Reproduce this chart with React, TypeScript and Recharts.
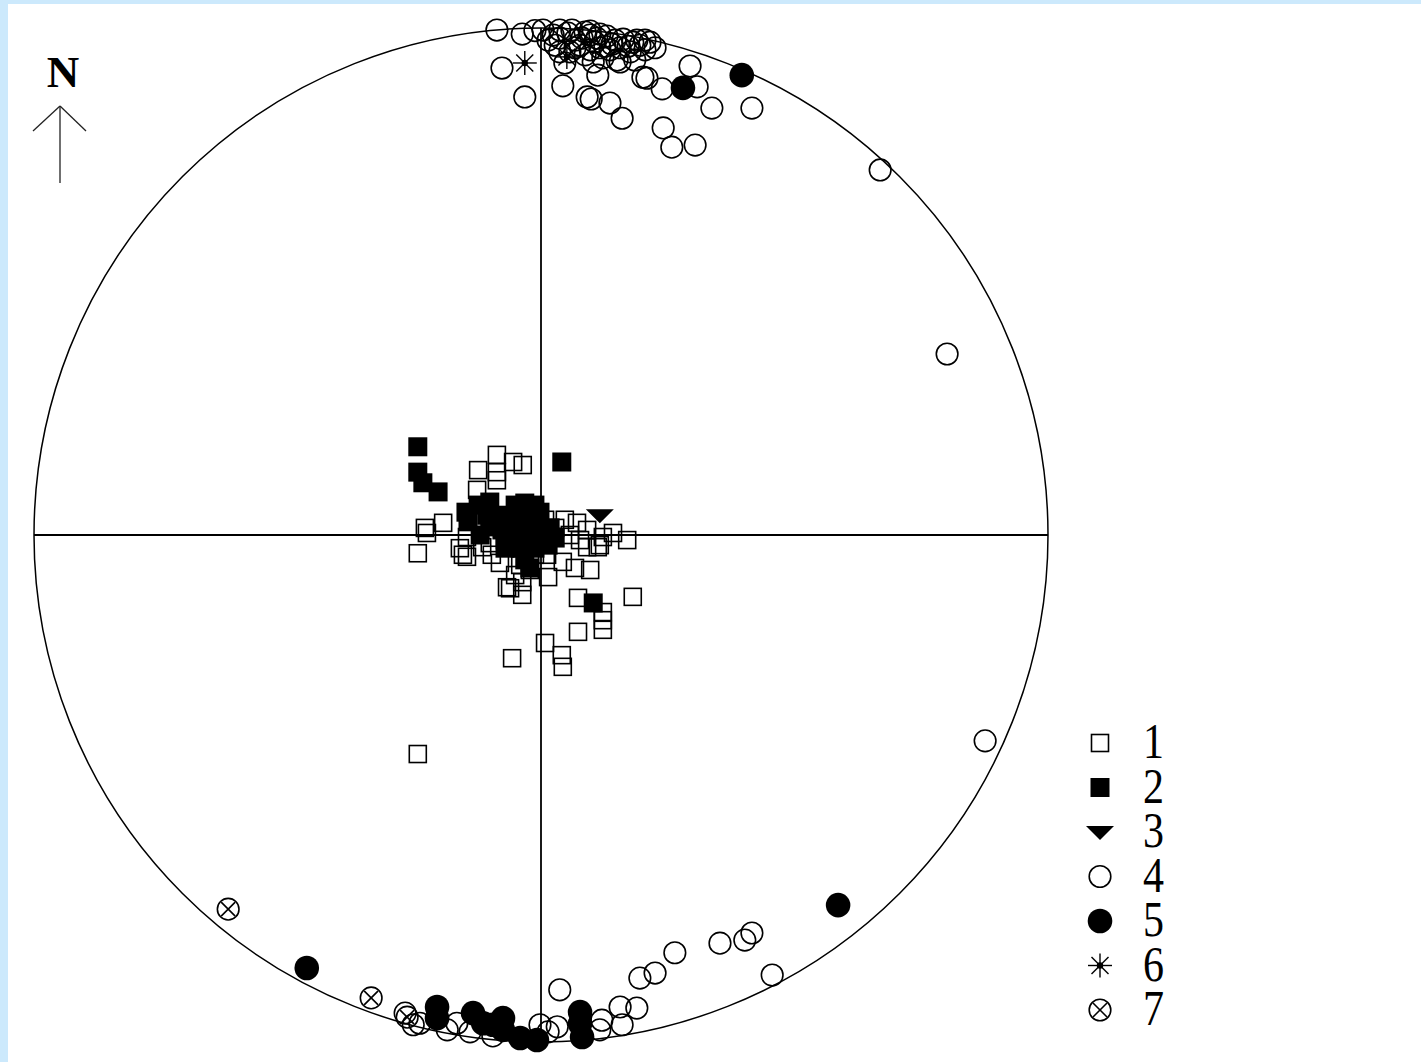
import React from 'react';
import {
  ScatterChart,
  Scatter,
  XAxis,
  YAxis,
  ReferenceLine,
  ReferenceDot,
  Legend,
} from 'recharts';

type Pt = [number, number];

// stereonet projection coordinates, net radius = 100
const openSquares: Pt[] = [
  [-8.7, 15.8], [-5.5, 14.4], [-3.6, 13.8], [-12.4, 12.8], [-8.7, 12.4], [-8.7, 10.8],
  [-12.6, 8.9], [-19.3, 2.4], [-22.9, 1.4], [-22.5, 0.4], [-24.3, -3.6], [-15.4, -3.9],
  [-14.6, -4.3], [4.7, 3.0], [7.1, 2.4], [9.1, 1.0], [12.2, -0.4], [14.2, 0.4],
  [17.0, -1.0], [11.2, -2.4], [9.1, -2.4], [6.7, -6.5], [9.7, -6.9], [4.3, -5.3],
  [1.2, -3.9], [1.4, -8.3], [-8.1, -5.5], [-14.6, -0.4], [-11.6, -2.4], [-10.1, -1.6],
  [-6.7, -10.3], [-6.1, -10.5], [-3.7, -11.8], [-3.7, -9.3], [7.3, -12.4], [18.1, -12.2],
  [12.2, -15.2], [12.2, -16.8], [12.2, -18.7], [7.3, -19.1], [0.8, -21.3], [4.1, -23.7],
  [4.3, -26.0], [-5.7, -24.3], [-24.3, -43.2], [2.8, 1.4], [5.7, 0], [7.7, -1.0],
  [11.6, -2.0], [-2.2, -6.9], [-5.1, -7.9], [-4.1, -5.9], [-1.2, -3.9], [-12.4, 3.0],
  [-7.1, -1.0], [-3.2, 3.9], [0.8, 3.0], [-16.0, -2.6], [-9.7, -3.9],
];

const filledSquares: Pt[] = [
  [-24.3, 17.4], [-24.3, 12.4], [-23.3, 10.3], [-20.3, 8.5], [4.1, 14.4], [10.3, -13.4],
  [-14.8, 4.5], [-14.4, 2.6], [-12.4, 5.9], [-10.1, 6.5], [-10.7, 3.9], [-10.1, 1.6],
  [-7.7, 1.0], [-7.1, 3.9], [-5.1, 5.9], [-3.2, 6.3], [-1.2, 5.9], [-0.2, 4.5],
  [-0.8, 2.6], [-3.2, 3.0], [-5.1, 1.0], [-2.8, 0], [-0.2, 0], [1.8, 1.4],
  [1.4, -2.0], [-1.2, -2.6], [-4.1, -2.6], [-3.2, -4.9], [-2.2, -6.5], [-4.7, -1.0],
  [-7.1, -2.6], [-12.0, 0], [2.8, -0.6], [-8.1, 3.0], [-5.7, 3.4],
];

const triangles: Pt[] = [[11.6, 3.9]];

const openCircles: Pt[] = [
  // north rim
  [-8.7, 99.6], [-3.7, 98.8], [0.4, 99.6], [-1.2, 99.5], [6.1, 99.6], [3.7, 98.0],
  [9.7, 98.6], [13.0, 98.4], [16.2, 97.8], [18.9, 97.6], [21.5, 97.2], [5.7, 95.3],
  [10.3, 93.3], [15.6, 93.3], [13.6, 95.7], [7.7, 96.6], [11.6, 96.1], [17.6, 95.3],
  [20.5, 95.7], [2.8, 96.6], [8.7, 99.2], [11.6, 98.8], [14.6, 97.6], [19.5, 96.6],
  [2.4, 98.6], [6.7, 97.6], [10.6, 97.2], [14.0, 96.8], [17.2, 96.4], [8.7, 94.7],
  [12.2, 94.1], [18.5, 93.7], [22.5, 96.1], [3.7, 99.6], [9.7, 99.4],
  [1.4, 97.6], [5.3, 99.0], [8.1, 98.0], [11.0, 98.0], [12.6, 96.4], [15.6, 96.1],
  [18.1, 97.2], [9.7, 95.7], [6.7, 96.1], [3.7, 95.3], [20.5, 97.6],
  [-7.7, 92.1], [-3.2, 86.4], [4.3, 88.6], [9.1, 86.4], [9.9, 86.0], [13.6, 85.2],
  [16.0, 82.2], [11.2, 90.7], [4.7, 93.1], [20.1, 90.3], [20.9, 90.1], [23.9, 88.0],
  [29.4, 92.5], [30.8, 88.4], [33.7, 84.2], [41.6, 84.2], [24.1, 80.3], [25.8, 76.5],
  [30.4, 76.9], [15.0, 93.7],
  // east
  [66.9, 72.0], [80.1, 35.7], [87.6, -40.6],
  // south rim
  [35.3, -80.5], [40.2, -79.9], [41.6, -78.5], [26.4, -82.4], [22.5, -86.4], [19.5, -87.4],
  [45.6, -86.8], [15.6, -93.1], [18.9, -93.3], [12.0, -95.7], [16.0, -96.6], [3.7, -89.7],
  [-26.8, -94.3], [-25.2, -96.6], [-23.9, -96.3], [-18.5, -97.6], [-16.6, -96.3],
  [-14.0, -98.0], [-9.5, -98.8], [-0.2, -96.6], [3.2, -97.0], [1.4, -98.0], [11.6, -97.6],
];

const filledCircles: Pt[] = [
  [39.6, 90.7], [28.0, 88.2], [58.6, -73.0], [-46.2, -85.4], [-20.5, -93.1], [-20.5, -95.3],
  [-13.4, -94.3], [-11.4, -96.3], [-7.5, -95.3], [-7.5, -97.6], [-4.1, -99.2], [-0.8, -99.6],
  [7.7, -94.1], [7.7, -96.4], [8.1, -99.0], [-9.5, -96.6],
];

const asterisks: Pt[] = [[-3.2, 93.1], [5.1, 94.3]];

const crossedCircles: Pt[] = [[-61.7, -73.8], [-33.5, -91.3], [-26.4, -95.1]];

const legendLabels = ['1', '2', '3', '4', '5', '6', '7'];

const toPoints = (pts: Pt[]) => pts.map(([x, y]) => ({ x, y }));

const INK = '#000';
const SW = 1.6;
const SERIF = '"Liberation Serif", "Times New Roman", serif';

// marker glyphs
function OpenSquare({ cx, cy }: any) {
  return <rect x={cx - 8.5} y={cy - 8.5} width={17} height={17} fill="none" stroke={INK} strokeWidth={SW} />;
}
function FilledSquare({ cx, cy }: any) {
  return <rect x={cx - 9.5} y={cy - 9.5} width={19} height={19} fill={INK} />;
}
function Triangle({ cx, cy }: any) {
  return <path d={`M${cx - 14},${cy - 6} L${cx + 14},${cy - 6} L${cx},${cy + 8} Z`} fill={INK} />;
}
function OpenCircle({ cx, cy }: any) {
  return <circle cx={cx} cy={cy} r={10.8} fill="none" stroke={INK} strokeWidth={SW} />;
}
function FilledCircle({ cx, cy }: any) {
  return <circle cx={cx} cy={cy} r={12.3} fill={INK} />;
}
function Asterisk({ cx, cy }: any) {
  const a = 12;
  const d = 8.5;
  return (
    <g stroke={INK} strokeWidth={1.4}>
      <line x1={cx - a} y1={cy} x2={cx + a} y2={cy} />
      <line x1={cx} y1={cy - a} x2={cx} y2={cy + a} />
      <line x1={cx - d} y1={cy - d} x2={cx + d} y2={cy + d} />
      <line x1={cx - d} y1={cy + d} x2={cx + d} y2={cy - d} />
      <circle cx={cx} cy={cy} r={2.5} fill={INK} />
    </g>
  );
}
function CrossedCircle({ cx, cy }: any) {
  const d = 7;
  return (
    <g stroke={INK} strokeWidth={SW} fill="none">
      <circle cx={cx} cy={cy} r={10.8} />
      <line x1={cx - d} y1={cy - d} x2={cx + d} y2={cy + d} />
      <line x1={cx - d} y1={cy + d} x2={cx + d} y2={cy - d} />
    </g>
  );
}

const glyphs = [OpenSquare, FilledSquare, Triangle, OpenCircle, FilledCircle, Asterisk, CrossedCircle];

function LegendBox() {
  const rowGap = 44.5;
  return (
    <svg width={140} height={380} style={{ overflow: 'visible' }}>
      {legendLabels.map((lab, i) => {
        const G = glyphs[i];
        const cy = 53 + i * rowGap;
        return (
          <g key={lab}>
            <G cx={20} cy={cy} />
            <text
              x={0}
              y={0}
              transform={`translate(63 ${cy + 15}) scale(1 1.2)`}
              fontFamily={SERIF}
              fontSize={42}
              fill={INK}
            >
              {lab}
            </text>
          </g>
        );
      })}
    </svg>
  );
}

export default function App() {
  return (
    <div style={{ position: 'relative', width: 1421, height: 1062, background: '#cce9fc', overflow: 'hidden' }}>
      <style>{'body{margin:0}'}</style>
      <div style={{ position: 'absolute', left: 8, top: 4, width: 1413, height: 1058, background: '#fff' }} />
      <div style={{ position: 'absolute', left: 0, top: 0 }}>
        <ScatterChart width={1421} height={1062} margin={{ top: 28, right: 373, bottom: 20, left: 34 }}>
          <XAxis type="number" dataKey="x" domain={[-100, 100]} hide />
          <YAxis type="number" dataKey="y" domain={[-100, 100]} hide />
          <ReferenceDot x={0} y={0} r={507} fill="none" stroke={INK} strokeWidth={1.5} />
          <ReferenceLine y={0} stroke={INK} strokeWidth={1.8} />
          <ReferenceLine x={0} stroke={INK} strokeWidth={1.8} />
          <Legend
            layout="vertical"
            align="center"
            verticalAlign="middle"
            content={() => <LegendBox />}
            wrapperStyle={{ position: 'absolute', left: 1080, top: 690, width: 140, height: 380 }}
          />
          <Scatter name="1" data={toPoints(openSquares)} shape={(p: any) => <OpenSquare {...p} />} isAnimationActive={false} />
          <Scatter name="2" data={toPoints(filledSquares)} shape={(p: any) => <FilledSquare {...p} />} isAnimationActive={false} />
          <Scatter name="3" data={toPoints(triangles)} shape={(p: any) => <Triangle {...p} />} isAnimationActive={false} />
          <Scatter name="4" data={toPoints(openCircles)} shape={(p: any) => <OpenCircle {...p} />} isAnimationActive={false} />
          <Scatter name="5" data={toPoints(filledCircles)} shape={(p: any) => <FilledCircle {...p} />} isAnimationActive={false} />
          <Scatter name="6" data={toPoints(asterisks)} shape={(p: any) => <Asterisk {...p} />} isAnimationActive={false} />
          <Scatter name="7" data={toPoints(crossedCircles)} shape={(p: any) => <CrossedCircle {...p} />} isAnimationActive={false} />
        </ScatterChart>
      </div>
      <svg width={120} height={200} style={{ position: 'absolute', left: 0, top: 0 }}>
        <text x={63} y={87} textAnchor="middle" fontFamily={SERIF} fontWeight="bold" fontSize={45} fill={INK}>
          N
        </text>
        <g stroke="#222" strokeWidth={1.3} fill="none">
          <line x1={60} y1={183} x2={60} y2={106} />
          <line x1={33} y1={131} x2={60} y2={106} />
          <line x1={86} y1={131} x2={60} y2={106} />
        </g>
      </svg>
    </div>
  );
}
